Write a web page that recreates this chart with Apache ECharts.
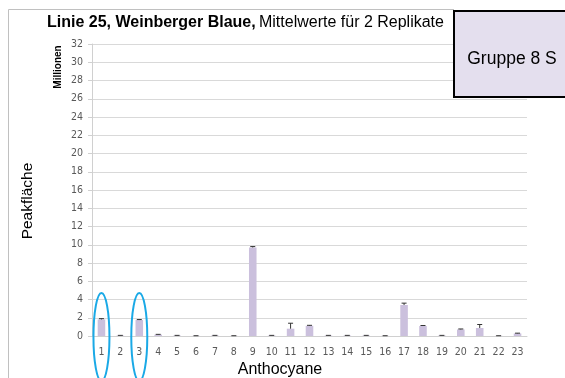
<!DOCTYPE html>
<html><head><meta charset="utf-8">
<script src="https://cdn.jsdelivr.net/npm/echarts@6/dist/echarts.min.js"></script>
<style>html,body{margin:0;padding:0;background:#fff}#c{width:565px;height:378px}</style>
</head><body><div id="c"></div>
<script>
const categories = ['1','2','3','4','5','6','7','8','9','10','11','12','13','14','15','16','17','18','19','20','21','22','23'];
const values = [1.82,0.05,1.75,0.15,0.05,0.02,0.05,0.02,9.7,0.05,0.8,1.12,0.05,0.05,0.05,0.02,3.4,1.1,0.05,0.72,0.88,0.02,0.28];
const errors = [0.08,0.02,0.05,0.03,0.02,0.01,0.02,0.01,0.1,0.02,0.6,0.05,0.02,0.02,0.02,0.01,0.2,0.05,0.02,0.05,0.38,0.01,0.03];
const yTicks = [0,2,4,6,8,10,12,14,16,18,20,22,24,26,28,30,32];
const circled = ['1','3'];

const chart = echarts.init(document.getElementById('c'));
const font = 'Liberation Sans, Arial, sans-serif';
const lblFont = 'DejaVu Sans Condensed, Liberation Sans';
const errData = values.map((v,i)=>[i, v, v+errors[i]]);
chart.setOption({
  animation:false,
  grid:{left:92,right:38,top:44,bottom:42,containLabel:false},
  xAxis:{type:'category',data:categories,
    axisLine:{lineStyle:{color:'#d0d0d0'}},axisTick:{show:false},
    axisLabel:{color:'#595959',fontSize:10.5,fontFamily:lblFont,margin:11}},
  yAxis:{type:'value',min:yTicks[0],max:yTicks[yTicks.length-1],interval:2,
    axisLine:{show:true,lineStyle:{color:'#d0d0d0'}},axisTick:{show:true,length:4,lineStyle:{color:'#d0d0d0'}},
    splitLine:{lineStyle:{color:'#d9d9d9',width:1}},
    axisLabel:{color:'#595959',fontSize:10.5,fontFamily:lblFont,margin:9}},
  series:[
    {type:'bar',data:values,barWidth:'40%',itemStyle:{color:'#cbc0dd'}},
    {type:'custom',data:errData,z:5,
      renderItem:function(params,api){
        const x = api.value(0);
        const p1 = api.coord([x, api.value(1)]);
        const p2 = api.coord([x, api.value(2)]);
        const w = 2.5;
        return {type:'group',children:[
          {type:'line',shape:{x1:p1[0],y1:p1[1],x2:p2[0],y2:p2[1]},style:{stroke:'#333',lineWidth:1}},
          {type:'line',shape:{x1:p2[0]-w,y1:p2[1],x2:p2[0]+w,y2:p2[1]},style:{stroke:'#333',lineWidth:1}}
        ]};
      }}
  ]
});

const zeroY = chart.convertToPixel({yAxisIndex:0},0);
const graphics = [
  {type:'line',shape:{x1:8.5,y1:9.5,x2:454,y2:9.5},style:{stroke:'#c0c0c0',lineWidth:1},z:1},
  {type:'line',shape:{x1:8.5,y1:9.5,x2:8.5,y2:378},style:{stroke:'#c0c0c0',lineWidth:1},z:1},
  {type:'text',left:47,top:15,z:10,style:{
    text:'{b|Linie 25, Weinberger Blaue,} {n|Mittelwerte für 2 Replikate}',
    rich:{b:{fontWeight:'bold',fontSize:16,fontFamily:font,fill:'#000'},
          n:{fontSize:16,fontFamily:font,fill:'#000'}}}},
  {type:'text',z:10,x:58,y:67,rotation:Math.PI/2,style:{text:'Millionen',fontSize:10,fontWeight:'bold',fontFamily:font,fill:'#000',align:'center',verticalAlign:'middle'}},
  {type:'text',z:10,x:28,y:201,rotation:Math.PI/2,style:{text:'Peakfläche',fontSize:15.5,fontFamily:font,fill:'#000',align:'center',verticalAlign:'middle'}},
  {type:'text',z:10,x:280,y:370,style:{text:'Anthocyane',fontSize:16,fontFamily:font,fill:'#000',align:'center',verticalAlign:'middle'}},
  {type:'rect',z:20,shape:{x:454,y:11,width:113,height:86},style:{fill:'#e4dfee',stroke:'#000',lineWidth:2}},
  {type:'text',z:21,x:512,y:59,style:{text:'Gruppe 8 S',fontSize:17.5,fontFamily:font,fill:'#000',align:'center',verticalAlign:'middle'}}
];
circled.forEach(c=>{
  const cx = chart.convertToPixel({xAxisIndex:0},c);
  graphics.push({type:'ellipse',z:30,shape:{cx:cx,cy:zeroY+1,rx:8,ry:44},style:{fill:'none',stroke:'#1aa9e6',lineWidth:2}});
});
chart.setOption({graphic:graphics});
</script></body></html>
